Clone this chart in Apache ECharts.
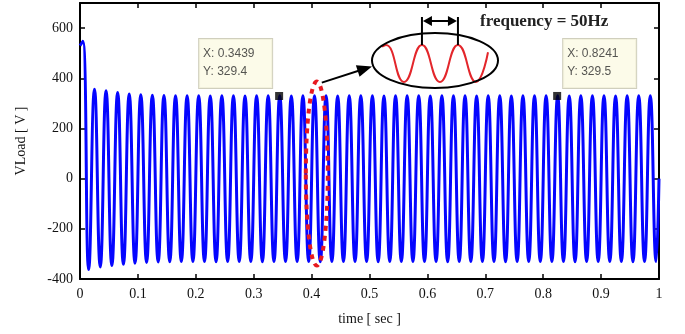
<!DOCTYPE html>
<html>
<head>
<meta charset="utf-8">
<script src="https://cdn.jsdelivr.net/npm/echarts@6/dist/echarts.min.js"></script>
<style>
  html, body { margin: 0; padding: 0; background: #fff; }
  #chart { width: 685px; height: 334px; }
</style>
</head>
<body>
<div id="chart"></div>
<script>
// extrema of the load voltage (time in s, value in V)
const startPoint = [0, 530];
const endPoint = [1, 0];
const peakTimes = [0.005, 0.025, 0.045, 0.065, 0.085, 0.105, 0.125, 0.145, 0.165, 0.185,
  0.205, 0.225, 0.245, 0.265, 0.285, 0.305, 0.325, 0.345, 0.365, 0.385,
  0.405, 0.425, 0.445, 0.465, 0.485, 0.505, 0.525, 0.545, 0.565, 0.585,
  0.605, 0.625, 0.645, 0.665, 0.685, 0.705, 0.725, 0.745, 0.765, 0.785,
  0.805, 0.825, 0.845, 0.865, 0.885, 0.905, 0.925, 0.945, 0.965, 0.985];
const peakValues = [548, 356, 350, 343, 337, 334, 332, 331, 330, 330,
  330, 329, 330, 330, 329, 330, 330, 330, 329, 330,
  330, 330, 329, 330, 330, 330, 329, 330, 330, 330,
  329, 330, 330, 330, 329, 330, 330, 329, 330, 330,
  330, 330, 329, 330, 330, 330, 329, 330, 330, 330];
const troughTimes = [0.015, 0.035, 0.055, 0.075, 0.095, 0.115, 0.135, 0.155, 0.175, 0.195,
  0.215, 0.235, 0.255, 0.275, 0.295, 0.315, 0.335, 0.355, 0.375, 0.395,
  0.415, 0.435, 0.455, 0.475, 0.495, 0.515, 0.535, 0.555, 0.575, 0.595,
  0.615, 0.635, 0.655, 0.675, 0.695, 0.715, 0.735, 0.755, 0.775, 0.795,
  0.815, 0.835, 0.855, 0.875, 0.895, 0.915, 0.935, 0.955, 0.975, 0.995];
const troughValues = [-362, -352, -346, -341, -337, -334, -332, -331, -330, -330,
  -330, -331, -330, -330, -330, -331, -330, -330, -330, -330,
  -331, -330, -330, -330, -330, -331, -330, -330, -330, -330,
  -330, -331, -330, -330, -330, -330, -331, -330, -330, -330,
  -330, -330, -331, -330, -330, -330, -330, -331, -330, -330];

// data tips
const tipTimes = [0.3439, 0.8241];
const tipValues = [329.4, 329.5];

// zoomed view shown inside the inset ellipse
const insetTimes = [0.4028, 0.405, 0.415, 0.425, 0.435, 0.445, 0.455, 0.4617];
const insetValues = [300, 330, -330, 330, -330, 330, -330, 200];

const xTicks = [0, 1, 0.1];      // min, max, interval
const yTicks = [-400, 700, 200];

const serif = 'Liberation Serif';

// build the main trace in time order
const trace = [startPoint];
for (let i = 0; i < peakTimes.length; i++) {
  trace.push([peakTimes[i], peakValues[i]]);
  trace.push([troughTimes[i], troughValues[i]]);
}
trace.push(endPoint);

const inset = insetTimes.map((t, i) => [t, insetValues[i]]);

const tipLabelPos = [[-76, -53], [10, -53]];
const tips = tipTimes.map((t, i) => ({
  value: [t, tipValues[i]],
  label: { position: tipLabelPos[i] }
}));

const chart = echarts.init(document.getElementById('chart'), null, { renderer: 'canvas' });

const axisLine = { show: true, onZero: false, lineStyle: { color: '#000', width: 2 } };
const axisTick = { show: true, inside: true, length: 5, lineStyle: { color: '#000', width: 1.5 } };

const option = {
  animation: false,
  grid: [
    { left: 80, right: 26, top: 3, bottom: 55 },
    { left: 382, top: 45, width: 106, height: 37 }
  ],
  xAxis: [
    {
      gridIndex: 0, type: 'value', position: 'bottom',
      min: xTicks[0], max: xTicks[1], interval: xTicks[2],
      axisLine, axisTick, splitLine: { show: false },
      axisLabel: { color: '#111', fontFamily: serif, fontSize: 14, margin: 8 },
      name: 'time [ sec ]', nameLocation: 'middle', nameGap: 33,
      nameTextStyle: { color: '#111', fontFamily: serif, fontSize: 14 }
    },
    {
      gridIndex: 0, type: 'value', position: 'top',
      min: xTicks[0], max: xTicks[1], interval: xTicks[2],
      axisLine, axisTick, splitLine: { show: false }, axisLabel: { show: false }
    },
    {
      gridIndex: 1, type: 'value', show: false,
      min: insetTimes[0], max: insetTimes[insetTimes.length - 1]
    }
  ],
  yAxis: [
    {
      gridIndex: 0, type: 'value', position: 'left',
      min: yTicks[0], max: yTicks[1], interval: yTicks[2],
      axisLine, axisTick, splitLine: { show: false },
      axisLabel: {
        color: '#111', fontFamily: serif, fontSize: 14, margin: 7,
        formatter: v => (v > 600 ? '' : String(v))
      },
      name: 'VLoad [ V ]', nameLocation: 'middle', nameGap: 52,
      nameTextStyle: { color: '#111', fontFamily: serif, fontSize: 14 }
    },
    {
      gridIndex: 0, type: 'value', position: 'right',
      min: yTicks[0], max: yTicks[1], interval: yTicks[2],
      axisLine, axisTick, splitLine: { show: false }, axisLabel: { show: false }
    },
    {
      gridIndex: 1, type: 'value', show: false, min: -330, max: 330
    }
  ],
  series: [
    {
      type: 'line', xAxisIndex: 0, yAxisIndex: 0,
      data: trace, smooth: 0.5, showSymbol: false, clip: true,
      lineStyle: { color: '#0505ff', width: 3 }
    },
    {
      type: 'scatter', xAxisIndex: 0, yAxisIndex: 0,
      data: tips, symbol: 'rect', symbolSize: 8,
      itemStyle: { color: '#000' }, z: 5,
      label: {
        show: true,
        formatter: p => 'X: ' + p.value[0] + '\nY: ' + p.value[1],
        fontFamily: 'Liberation Sans', fontSize: 12, color: '#2a2a2a',
        lineHeight: 18, width: 65, align: 'left',
        padding: [6, 4, 7, 4],
        backgroundColor: '#fbfae4', borderColor: '#c4c3ad', borderWidth: 1
      }
    },
    {
      type: 'line', xAxisIndex: 2, yAxisIndex: 2,
      data: inset, smooth: 0.5, showSymbol: false, clip: false,
      lineStyle: { color: '#e3262b', width: 2 }, z: 6
    }
  ]
};

chart.setOption(option);

// annotations: dotted highlight, arrow, inset ellipse, period marker
const red = chart.convertToPixel({ gridIndex: 0 }, [0.409, 20]);
const pk1 = chart.convertToPixel({ xAxisIndex: 2, yAxisIndex: 2 }, [insetTimes[3], insetValues[3]]);
const pk2 = chart.convertToPixel({ xAxisIndex: 2, yAxisIndex: 2 }, [insetTimes[5], insetValues[5]]);
const ell = { cx: 435, cy: 60.5, rx: 63, ry: 27.5 };

const aStart = [red[0] + 5, red[1] - 91];
const aEnd = [ell.cx - ell.rx, ell.cy + 6];
const ang = Math.atan2(aEnd[1] - aStart[1], aEnd[0] - aStart[0]);
const head = (tip, a, len, hw) => [
  tip,
  [tip[0] - len * Math.cos(a) + hw * Math.sin(a), tip[1] - len * Math.sin(a) - hw * Math.cos(a)],
  [tip[0] - len * Math.cos(a) - hw * Math.sin(a), tip[1] - len * Math.sin(a) + hw * Math.cos(a)]
];
const barY = 21;

chart.setOption({
  graphic: [
    {
      type: 'ellipse', z: 20,
      shape: { cx: red[0], cy: red[1], rx: 11, ry: 92 },
      style: { fill: null, stroke: '#e8191f', lineWidth: 4, lineDash: [5, 5] }
    },
    {
      type: 'line', z: 20,
      shape: { x1: aStart[0], y1: aStart[1], x2: aEnd[0] - 10 * Math.cos(ang), y2: aEnd[1] - 10 * Math.sin(ang) },
      style: { stroke: '#000', lineWidth: 2 }
    },
    {
      type: 'polygon', z: 20,
      shape: { points: head(aEnd, ang, 15, 6) },
      style: { fill: '#000' }
    },
    {
      type: 'ellipse', z: 20,
      shape: ell,
      style: { fill: null, stroke: '#000', lineWidth: 2 }
    },
    {
      type: 'line', z: 20,
      shape: { x1: pk1[0], y1: 17, x2: pk1[0], y2: pk1[1] },
      style: { stroke: '#000', lineWidth: 2 }
    },
    {
      type: 'line', z: 20,
      shape: { x1: pk2[0], y1: 17, x2: pk2[0], y2: pk2[1] },
      style: { stroke: '#000', lineWidth: 2 }
    },
    {
      type: 'line', z: 20,
      shape: { x1: pk1[0] + 4, y1: barY, x2: pk2[0] - 4, y2: barY },
      style: { stroke: '#000', lineWidth: 2 }
    },
    {
      type: 'polygon', z: 20,
      shape: { points: head([pk1[0] + 1, barY], Math.PI, 9, 5) },
      style: { fill: '#000' }
    },
    {
      type: 'polygon', z: 20,
      shape: { points: head([pk2[0] - 1, barY], 0, 9, 5) },
      style: { fill: '#000' }
    },
    {
      type: 'text', z: 20, x: 480, y: 22,
      style: {
        text: 'frequency = 50Hz', fill: '#222',
        font: 'bold 17px "Liberation Serif"', verticalAlign: 'middle'
      }
    }
  ]
});
</script>
</body>
</html>
